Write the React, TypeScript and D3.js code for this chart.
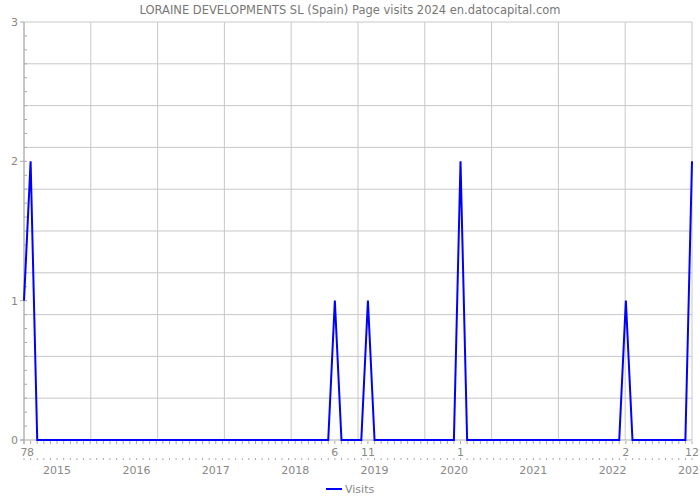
import React from "react";
import * as d3 from "d3";

const startYear = 2014;
const startMonth = 7; // July
const visits: number[] = [
  // 2014 Jul-Dec
  1, 2, 0, 0, 0, 0,
  // 2015
  0, 0, 0, 0, 0, 0, 0, 0, 0, 0, 0, 0,
  // 2016
  0, 0, 0, 0, 0, 0, 0, 0, 0, 0, 0, 0,
  // 2017
  0, 0, 0, 0, 0, 0, 0, 0, 0, 0, 0, 0,
  // 2018
  0, 0, 0, 0, 0, 1, 0, 0, 0, 0, 1, 0,
  // 2019
  0, 0, 0, 0, 0, 0, 0, 0, 0, 0, 0, 0,
  // 2020
  2, 0, 0, 0, 0, 0, 0, 0, 0, 0, 0, 0,
  // 2021
  0, 0, 0, 0, 0, 0, 0, 0, 0, 0, 0, 0,
  // 2022
  0, 1, 0, 0, 0, 0, 0, 0, 0, 0, 0, 2,
];
const yearLabels = ["2015", "2016", "2017", "2018", "2019", "2020", "2021", "2022", "2023"];
const yTickLabels = [0, 1, 2, 3];
const title = "LORAINE DEVELOPMENTS SL (Spain) Page visits 2024 en.datocapital.com";
const seriesName = "Visits";

const W = 700;
const H = 500;
const left = 24;
const right = 692;
const top = 22;
const bottom = 440;
const font = "DejaVu Sans, Verdana, sans-serif";
const textColor = "#888";
const gridColor = "#c8c8c8";
const axisColor = "#aaa";
const lineColor = "#0000ff";

export default function App() {
  const n = visits.length;
  const x = d3.scaleLinear().domain([0, n - 1]).range([left, right]);
  const y = d3.scaleLinear().domain([0, 3]).range([bottom, top]);
  const line = d3
    .line<number>()
    .x((_, i) => x(i))
    .y((d) => y(d));

  const vGrid = d3.range(0, 11).map((k) => left + ((right - left) * k) / 10);
  const hGrid = d3.range(1, 11).map((k) => y(k * 0.3));
  const yMinor = d3.range(1, 30).map((k) => y(k * 0.1));
  const monthIdx = d3.range(0, n);
  const monthOf = (i: number) => ((startMonth - 1 + i) % 12) + 1;
  const yearLabelIdx = yearLabels.map((lab) => (+lab - startYear) * 12 - (startMonth - 1) - 1);

  return (
    <svg width={W} height={H} style={{ position: "absolute", left: 0, top: 0 }} fontFamily={font}>
      <rect width={W} height={H} fill="#fff" />
      <text x={350} y={14} textAnchor="middle" fontSize={11.5} fill="#777">
        {title}
      </text>
      {vGrid.map((gx, i) => (
        <line key={"vg" + i} x1={gx} x2={gx} y1={top} y2={bottom} stroke={gridColor} strokeWidth={1} />
      ))}
      {hGrid.map((gy, i) => (
        <line key={"hg" + i} x1={left} x2={right} y1={gy} y2={gy} stroke={gridColor} strokeWidth={1} />
      ))}
      {yMinor.map((gy, i) => (
        <line key={"ym" + i} x1={left} x2={left + 3} y1={gy} y2={gy} stroke={axisColor} strokeWidth={1} />
      ))}
      <line x1={left} x2={left} y1={top} y2={bottom + 4} stroke={axisColor} strokeWidth={1} />
      <line x1={left - 4} x2={right} y1={bottom} y2={bottom} stroke={axisColor} strokeWidth={1} />
      {yTickLabels.map((v) => (
        <g key={"yl" + v}>
          <line x1={left - 4} x2={left} y1={y(v)} y2={y(v)} stroke={axisColor} />
          <text x={left - 6} y={y(v) + 4} textAnchor="end" fontSize={11} fill={textColor}>
            {v}
          </text>
        </g>
      ))}
      {monthIdx.map((i) => (
        <line key={"mt" + i} x1={x(i)} x2={x(i)} y1={bottom + 1} y2={bottom + 4} stroke={axisColor} />
      ))}
      {monthIdx.map((i) => (
        <line key={"mt2" + i} x1={x(i)} x2={x(i)} y1={bottom + 18} y2={bottom + 20} stroke={axisColor} />
      ))}
      {visits.map((v, i) =>
        v > 0 ? (
          <text key={"ml" + i} x={x(i)} y={bottom + 16} textAnchor="middle" fontSize={11} fill={textColor}>
            {monthOf(i)}
          </text>
        ) : null
      )}
      {yearLabels.map((lab, k) => (
        <text key={"yr" + lab} x={x(yearLabelIdx[k])} y={bottom + 34} textAnchor="middle" fontSize={11} fill={textColor}>
          {lab}
        </text>
      ))}
      <path d={line(visits) || ""} fill="none" stroke={lineColor} strokeWidth={2} strokeLinejoin="miter" />
      <line x1={326} x2={342} y1={489} y2={489} stroke={lineColor} strokeWidth={2} />
      <text x={345} y={493} fontSize={11} fill={textColor}>
        {seriesName}
      </text>
    </svg>
  );
}
